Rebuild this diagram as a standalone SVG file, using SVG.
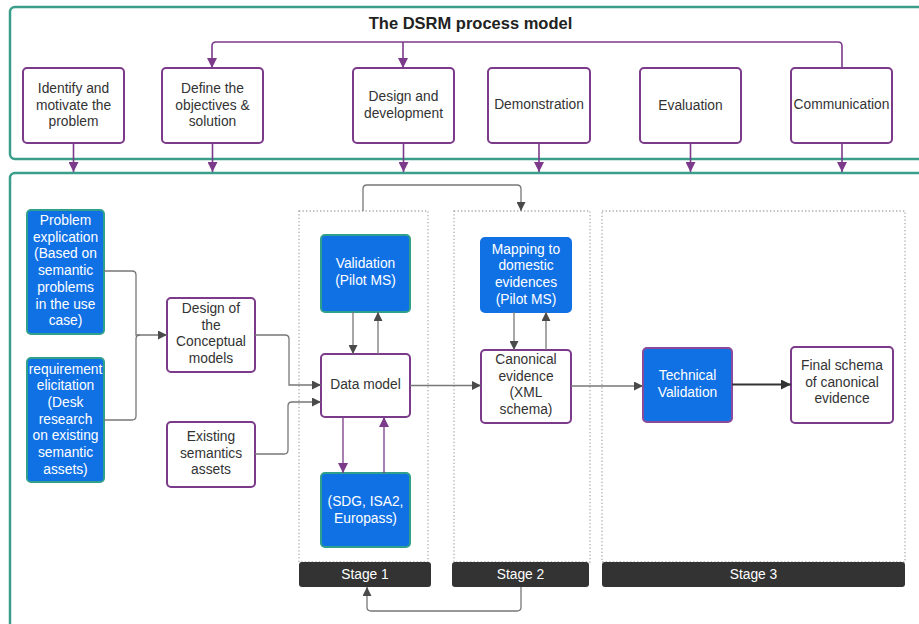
<svg xmlns="http://www.w3.org/2000/svg" width="919" height="624" viewBox="0 0 919 624">
  <defs>
    <marker id="ap" viewBox="0 0 10 10" refX="10" refY="5" markerWidth="10" markerHeight="10" markerUnits="userSpaceOnUse" orient="auto">
      <path d="M0,0 L10,5 L0,10 Z" fill="#7b3a8a"/>
    </marker>
    <marker id="ag" viewBox="0 0 10 10" refX="10" refY="5" markerWidth="10" markerHeight="9" markerUnits="userSpaceOnUse" orient="auto">
      <path d="M0,0 L10,5 L0,10 Z" fill="#4a4a4a"/>
    </marker>
    <marker id="ad" viewBox="0 0 10 10" refX="10" refY="5" markerWidth="12" markerHeight="10" markerUnits="userSpaceOnUse" orient="auto">
      <path d="M0,0 L10,5 L0,10 Z" fill="#333"/>
    </marker>
  </defs>
  <style>
    text { font-family: "Liberation Sans", Arial, sans-serif; font-size: 13.8px; fill: #333; text-anchor: middle; }
    .title { font-size: 16.5px; font-weight: bold; fill: #222; }
    .frame { fill: none; stroke: #3a9e8a; stroke-width: 2.5; }
    .pbox { fill: #fff; stroke: #7b3a8a; stroke-width: 2; }
    .bbox { fill: #1071e5; stroke: #2fa08c; stroke-width: 2; }
    .wt { fill: #fff; }
    .stage { fill: none; stroke: #aaa; stroke-width: 1.3; stroke-dasharray: 1.3 2.2; }
    .bar { fill: #333; }
    .pc { fill: none; stroke: #7b3a8a; stroke-width: 1.6; }
    .gc { fill: none; stroke: #777; stroke-width: 1.3; }
    .dc { fill: none; stroke: #333; stroke-width: 2; }
  </style>

  <!-- outer frames -->
  <rect class="frame" x="10" y="7" width="930" height="152" rx="5"/>
  <rect class="frame" x="10" y="173" width="930" height="480" rx="5"/>
  <text class="title" x="470.5" y="29">The DSRM process model</text>

  <!-- stage areas -->
  <g id="stage1">
    <rect class="stage" x="299" y="211" width="129" height="351"/>
    <rect class="bar" x="299" y="562" width="132" height="25" rx="3"/>
    <text class="wt" x="365" y="579">Stage 1</text>
  </g>
  <g id="stage2">
    <rect class="stage" x="454" y="211" width="136" height="351"/>
    <rect class="bar" x="452" y="562" width="137" height="25" rx="3"/>
    <text class="wt" x="520.5" y="579">Stage 2</text>
  </g>
  <g id="stage3">
    <rect class="stage" x="602" y="211" width="303" height="351"/>
    <rect class="bar" x="602" y="562" width="303" height="25" rx="3"/>
    <text class="wt" x="753.5" y="579">Stage 3</text>
  </g>

  <!-- DSRM phases -->
  <g id="identify">
    <rect class="pbox" x="23" y="68" width="101" height="75" rx="4"/>
    <text x="73.5" y="93">Identify and</text>
    <text x="73.5" y="109.5">motivate the</text>
    <text x="73.5" y="126">problem</text>
  </g>
  <g id="define">
    <rect class="pbox" x="162" y="68" width="101" height="75" rx="4"/>
    <text x="212.5" y="93">Define the</text>
    <text x="212.5" y="109.5">objectives &amp;</text>
    <text x="212.5" y="126">solution</text>
  </g>
  <g id="design">
    <rect class="pbox" x="353" y="68" width="101" height="75" rx="4"/>
    <text x="403.5" y="101">Design and</text>
    <text x="403.5" y="117.5">development</text>
  </g>
  <g id="demonstration">
    <rect class="pbox" x="488" y="68" width="102" height="75" rx="4"/>
    <text x="539" y="109">Demonstration</text>
  </g>
  <g id="evaluation">
    <rect class="pbox" x="640" y="68" width="101" height="75" rx="4"/>
    <text x="690.5" y="110">Evaluation</text>
  </g>
  <g id="communication">
    <rect class="pbox" x="791" y="68" width="101" height="75" rx="4"/>
    <text x="841.5" y="109">Communication</text>
  </g>

  <!-- inputs -->
  <g id="problem-explication">
    <rect class="bbox" x="27" y="210" width="77" height="124" rx="4"/>
    <text class="wt" x="65.5" y="225">Problem</text>
    <text class="wt" x="65.5" y="241.7">explication</text>
    <text class="wt" x="65.5" y="258.4">(Based on</text>
    <text class="wt" x="65.5" y="275.1">semantic</text>
    <text class="wt" x="65.5" y="291.8">problems</text>
    <text class="wt" x="65.5" y="308.5">in the use</text>
    <text class="wt" x="65.5" y="325.2">case)</text>
  </g>
  <g id="requirement-elicitation">
    <rect class="bbox" x="27" y="358" width="77" height="124" rx="4"/>
    <text class="wt" x="65.5" y="373.5">requirement</text>
    <text class="wt" x="65.5" y="390.2">elicitation</text>
    <text class="wt" x="65.5" y="406.9">(Desk</text>
    <text class="wt" x="65.5" y="423.6">research</text>
    <text class="wt" x="65.5" y="440.3">on existing</text>
    <text class="wt" x="65.5" y="457">semantic</text>
    <text class="wt" x="65.5" y="473.7">assets)</text>
  </g>
  <g id="conceptual-models">
    <rect class="pbox" x="167" y="298" width="88" height="74" rx="4"/>
    <text x="211" y="313">Design of</text>
    <text x="211" y="329.7">the</text>
    <text x="211" y="346.4">Conceptual</text>
    <text x="211" y="363.1">models</text>
  </g>
  <g id="existing-assets">
    <rect class="pbox" x="167" y="422" width="88" height="65" rx="4"/>
    <text x="211" y="441">Existing</text>
    <text x="211" y="457.7">semantics</text>
    <text x="211" y="474.4">assets</text>
  </g>

  <!-- stage 1 -->
  <g id="validation">
    <rect class="bbox" x="321" y="235" width="89" height="77" rx="4"/>
    <text class="wt" x="365.5" y="268">Validation</text>
    <text class="wt" x="365.5" y="284.7">(Pilot MS)</text>
  </g>
  <g id="data-model">
    <rect class="pbox" x="321" y="354" width="89" height="63" rx="4"/>
    <text x="365.5" y="389">Data model</text>
  </g>
  <g id="sdg">
    <rect class="bbox" x="321" y="473" width="89" height="74" rx="4"/>
    <text class="wt" x="365.5" y="506">(SDG, ISA2,</text>
    <text class="wt" x="365.5" y="522.7">Europass)</text>
  </g>

  <!-- stage 2 -->
  <g id="mapping">
    <rect class="bbox" x="481" y="238" width="90" height="74" rx="4" style="stroke:#1071e5"/>
    <text class="wt" x="526" y="253.5">Mapping to</text>
    <text class="wt" x="526" y="270.2">domestic</text>
    <text class="wt" x="526" y="286.9">evidences</text>
    <text class="wt" x="526" y="303.6">(Pilot MS)</text>
  </g>
  <g id="canonical-evidence">
    <rect class="pbox" x="481" y="350" width="90" height="73" rx="4"/>
    <text x="526" y="364">Canonical</text>
    <text x="526" y="380.7">evidence</text>
    <text x="526" y="397.4">(XML</text>
    <text x="526" y="414.1">schema)</text>
  </g>

  <!-- stage 3 -->
  <g id="technical-validation">
    <rect class="bbox" x="643" y="348" width="89" height="74" rx="4" style="stroke:#8a4a9a"/>
    <text class="wt" x="687.5" y="380">Technical</text>
    <text class="wt" x="687.5" y="396.7">Validation</text>
  </g>
  <g id="final-schema">
    <rect class="pbox" x="791" y="347" width="102" height="76" rx="4"/>
    <text x="842" y="370">Final schema</text>
    <text x="842" y="386.7">of canonical</text>
    <text x="842" y="403.4">evidence</text>
  </g>

  <!-- connectors -->
  <g id="connectors">
    <!-- iteration loop across the phases -->
    <path class="pc" d="M842,68 V46 Q842,42 838,42 H216 Q212,42 212,46 V68" marker-end="url(#ap)"/>
    <path class="pc" d="M403,42 V68" marker-end="url(#ap)"/>
    <!-- phases into the project frame -->
    <path class="pc" d="M73.5,143 V172" marker-end="url(#ap)"/>
    <path class="pc" d="M212.5,143 V172" marker-end="url(#ap)"/>
    <path class="pc" d="M403.5,143 V172" marker-end="url(#ap)"/>
    <path class="pc" d="M539,143 V172" marker-end="url(#ap)"/>
    <path class="pc" d="M690.5,143 V172" marker-end="url(#ap)"/>
    <path class="pc" d="M842,143 V172" marker-end="url(#ap)"/>

    <!-- inputs to conceptual models -->
    <path class="gc" d="M104,271 H132 Q136,271 136,275 V335 H167" marker-end="url(#ag)"/>
    <path class="gc" d="M104,420 H132 Q136,420 136,416 V339 Q136,335 140,335"/>
    <!-- to data model -->
    <path class="gc" d="M255,335 H285 Q289,335 289,339 V385 H321" marker-end="url(#ag)"/>
    <path class="gc" d="M255,454 H284 Q288,454 288,450 V406 Q288,402 292,402 H321" marker-end="url(#ag)"/>
    <!-- validation loop -->
    <path class="gc" d="M353,312 V354" marker-end="url(#ag)"/>
    <path class="gc" d="M378,354 V312" marker-end="url(#ag)"/>
    <!-- sources loop -->
    <path class="pc" d="M343,417 V473" marker-end="url(#ap)" style="stroke-width:1.3"/>
    <path class="pc" d="M384,473 V417" marker-end="url(#ap)" style="stroke-width:1.3"/>
    <!-- main flow -->
    <path class="gc" d="M410,385.5 H481" marker-end="url(#ag)"/>
    <path class="gc" d="M514,312 V350" marker-end="url(#ag)"/>
    <path class="gc" d="M546,350 V312" marker-end="url(#ag)"/>
    <path class="gc" d="M571,386 H643" marker-end="url(#ag)"/>
    <path class="dc" d="M732,384.5 H791" marker-end="url(#ad)"/>
    <!-- stage transitions -->
    <path class="gc" d="M363,211 V189 Q363,185 367,185 H517 Q521,185 521,189 V211" marker-end="url(#ag)"/>
    <path class="gc" d="M521,587 V607 Q521,611 517,611 H371 Q367,611 367,607 V587" marker-end="url(#ag)"/>
  </g>
</svg>
